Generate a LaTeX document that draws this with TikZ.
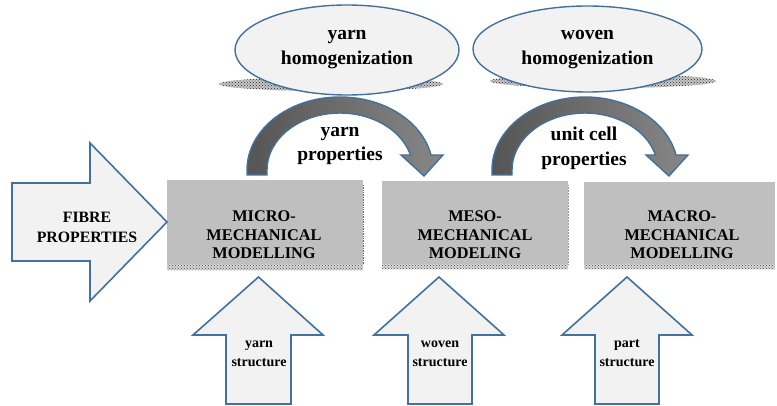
\documentclass[tikz,border=0pt]{standalone}
\usepackage{fontspec}
\setmainfont{Liberation Serif}
\usetikzlibrary{patterns,shapes.geometric}
\definecolor{bordblue}{RGB}{65,113,156}
\definecolor{lightfill}{RGB}{242,242,242}
\definecolor{boxgray}{RGB}{191,191,191}
\definecolor{darkarc}{RGB}{85,85,85}
\definecolor{lightarc}{RGB}{135,135,135}
\tikzset{
  blockarrow/.style={draw=bordblue, line width=1.6pt, fill=lightfill, line join=miter},
  levelbox/.style={fill=boxgray},
  shadowstrip/.style={fill=black!22, postaction={pattern=crosshatch dots, pattern color=black!85}},
  boxstrip/.style={fill=black!15, postaction={pattern=crosshatch dots, pattern color=black!75}},
  curvedarrow/.style={draw=bordblue, line width=1.4pt, left color=darkarc, right color=lightarc, line join=miter},
  homog/.style={ellipse, draw=bordblue, line width=1.4pt, fill=lightfill, inner sep=0pt},
  bigtxt/.style={font=\bfseries\fontsize{19.5}{24.5}\selectfont, align=center, inner sep=0pt},
  boxtxt/.style={font=\bfseries\fontsize{16.3}{18.5}\selectfont, align=center, inner sep=0pt},
  smalltxt/.style={font=\bfseries\fontsize{14}{19}\selectfont, align=center, inner sep=0pt},
  fibretxt/.style={font=\bfseries\fontsize{15.8}{20}\selectfont, align=center, inner sep=0pt}
}
\begin{document}
\begin{tikzpicture}[x=1pt,y=1pt]
\useasboundingbox (0,0) rectangle (777,405);

% shadows under ellipses
\path[shadowstrip] (331,321) ellipse [x radius=112, y radius=7];
\path[shadowstrip] (603,324) ellipse [x radius=113, y radius=7];

% ellipses
\node[homog, minimum width=224pt, minimum height=90pt] (yh) at (347,355) {};
\node[bigtxt] (yhtxt) at (347,355.5) {yarn\\homogenization};
\node[homog, minimum width=229pt, minimum height=86pt] (wh) at (587.5,356) {};
\node[bigtxt] (whtxt) at (587.5,355.5) {woven\\homogenization};

% curved arrows
\path[curvedarrow] (247,230) -- (247,235)
  arc[start angle=180, end angle=11.86, x radius=93, y radius=73]
  -- (443,250) -- (424,229) -- (401,250) -- (410.4,250)
  arc[start angle=15.3, end angle=180, x radius=73, y radius=57]
  -- (267,230) -- cycle;
\begin{scope}[xshift=245pt]
\path[curvedarrow] (247,230) -- (247,235)
  arc[start angle=180, end angle=11.86, x radius=93, y radius=73]
  -- (443,250) -- (424,229) -- (401,250) -- (410.4,250)
  arc[start angle=15.3, end angle=180, x radius=73, y radius=57]
  -- (267,230) -- cycle;
\end{scope}
\node[bigtxt] (yp) at (340,259) {yarn\\properties};
\node[bigtxt] (ucp) at (584,256.5) {unit cell\\properties};

% level boxes
\path[boxstrip] (167,135) rectangle (363,141);
\path[boxstrip] (382,136) rectangle (568,141);
\path[boxstrip] (584,136) rectangle (775,141);
\fill[levelbox] (167,141) rectangle (363,225);
\fill[levelbox] (382,141) rectangle (568,224);
\fill[levelbox] (584,141) rectangle (775,223);
\draw[black!60, densely dotted, line width=0.7pt] (363,141) -- (363,220);
\draw[black!40, densely dotted, line width=0.5pt] (568,141) -- (568,220);
\node[boxtxt] (micro) at (264,170) {MICRO-\\MECHANICAL\\MODELLING};
\node[boxtxt] (meso) at (475,170) {MESO-\\MECHANICAL\\MODELING};
\node[boxtxt] (macro) at (682,170) {MACRO-\\MECHANICAL\\MODELLING};

% fibre arrow
\draw[blockarrow] (12,222) -- (90,222) -- (90,262) -- (167,183) -- (90,104) -- (90,144) -- (12,144) -- cycle;
\node[fibretxt] (fibre) at (87,178) {FIBRE\\PROPERTIES};

% bottom arrows
\draw[blockarrow] (226,1) -- (226,70) -- (193,70) -- (258.5,128) -- (323,70) -- (291,70) -- (291,1) -- cycle;
\draw[blockarrow] (408,1) -- (408,70) -- (374,70) -- (439,128) -- (504,70) -- (472,70) -- (472,1) -- cycle;
\draw[blockarrow] (595,1) -- (595,70) -- (562,70) -- (627,128) -- (692,70) -- (659,70) -- (659,1) -- cycle;
\node[smalltxt] (ys) at (259,51.5) {yarn\\structure};
\node[smalltxt] (ws) at (440,51.5) {woven\\structure};
\node[smalltxt] (ps) at (627,51.5) {part\\structure};
\end{tikzpicture}
\end{document}
